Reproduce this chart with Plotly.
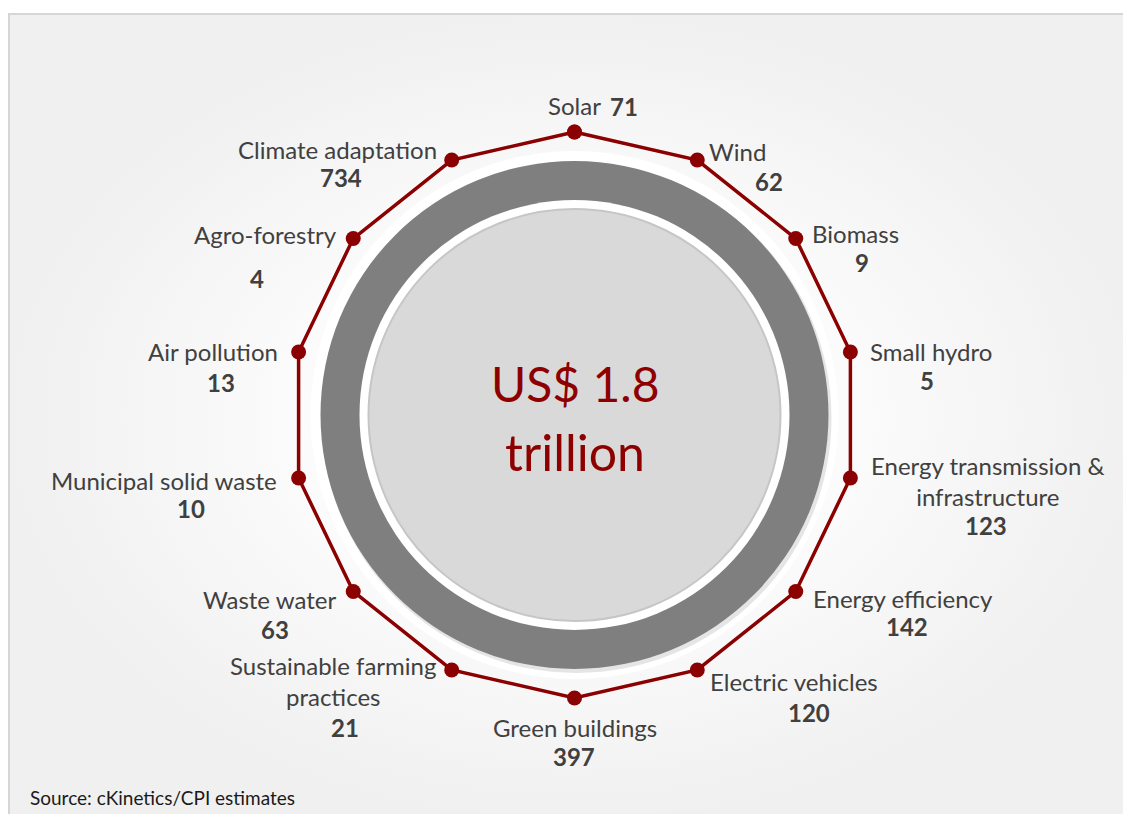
import math
import plotly.graph_objects as go

# ---------------- data ----------------
categories = [
    "Solar", "Wind", "Biomass", "Small hydro",
    "Energy transmission &<br>infrastructure", "Energy efficiency",
    "Electric vehicles", "Green buildings",
    "Sustainable farming<br>practices", "Waste water",
    "Municipal solid waste", "Air pollution", "Agro-forestry",
    "Climate adaptation",
]
values = [71, 62, 9, 5, 123, 142, 120, 397, 21, 63, 10, 13, 4, 734]
total_lines = ["US$ 1.8", "trillion"]
source_text = "Source: cKinetics/CPI estimates"

# ---------------- style / layout ----------------
W, H = 1131, 814
OFF = 8                        # page offset of the figure (browser body margin)
CX, CY = 574.5, 415.0          # centre of the wheel (page px)
R_PX = 283.0                   # pixel radius of the polygon
RING_R = 1.0                   # radial value on which the polygon sits
RANGE_MAX = 1.2
DARK_RED = "#8b0000"
TEXT_GREY = "#404040"
FONT = "Lato"
LABEL_SIZE = 24

# label centres (page px) for names and values
name_xy = [(574.5, 105), (737, 151), (855, 233), (931, 351), (988, 481),
           (903, 598), (794, 681), (575, 727), (333, 681), (269, 599),
           (164, 480), (213, 351), (265, 234), (337, 149)]
value_xy = [(624, 106), (769, 181), (862, 262), (927, 380), (986, 525),
            (907, 626), (809, 712), (574, 756), (345, 727), (275, 629),
            (191, 508), (221, 382), (257, 278), (341, 177)]

fig = go.Figure()

# background panel with soft radial gradient (pixel-space cartesian axis)
fig.add_trace(go.Scatter(
    x=[7, W + OFF, W + OFF, 7, 7], y=[14, 14, H + OFF, H + OFF, 14],
    mode="lines", fill="toself", line=dict(width=0),
    fillgradient=dict(type="radial",
                      colorscale=[[0, "#ffffff"], [0.5, "#fbfbfb"], [1, "#f0f0f0"]]),
    hoverinfo="skip", showlegend=False, xaxis="x", yaxis="y",
))

# polygon through the categories
theta = categories + [categories[0]]
fig.add_trace(go.Scatterpolar(
    r=[RING_R] * len(theta), theta=theta,
    mode="lines+markers",
    line=dict(color=DARK_RED, width=3.5),
    marker=dict(color=DARK_RED, size=15),
    cliponaxis=False, hoverinfo="skip", showlegend=False,
))

span = R_PX * RANGE_MAX
fcx, fcy = CX - OFF, CY - OFF   # centre in figure px
fig.update_layout(
    width=W, height=H,
    margin=dict(l=0, r=0, t=0, b=0),
    paper_bgcolor="white", plot_bgcolor="rgba(0,0,0,0)",
    showlegend=False,
    xaxis=dict(range=[OFF, W + OFF], visible=False, domain=[0, 1], fixedrange=True),
    yaxis=dict(range=[H + OFF, OFF], visible=False, domain=[0, 1], fixedrange=True),
    polar=dict(
        domain=dict(x=[(fcx - span) / W, (fcx + span) / W],
                    y=[(H - fcy - span) / H, (H - fcy + span) / H]),
        bgcolor="rgba(0,0,0,0)",
        radialaxis=dict(range=[0, RANGE_MAX], visible=False, showgrid=False,
                        showline=False, showticklabels=False, ticks=""),
        angularaxis=dict(rotation=90, direction="clockwise", visible=False,
                         showgrid=False, showline=False, showticklabels=False,
                         ticks=""),
    ),
)

def circle(r, dx=0, dy=0, **kw):
    return dict(type="circle", xref="x", yref="y", layer="above",
                x0=CX - r + dx, x1=CX + r + dx, y0=CY - r + dy, y1=CY + r + dy, **kw)

shapes = [
    # panel border
    dict(type="line", xref="x", yref="y", x0=8, x1=W + OFF, y0=14, y1=14,
         line=dict(color="#d6d6d6", width=2), layer="above"),
    dict(type="line", xref="x", yref="y", x0=9, x1=9, y0=14, y1=H + OFF,
         line=dict(color="#d6d6d6", width=2), layer="above"),
    # halo
    circle(264, fillcolor="rgba(255,255,255,0.9)", line=dict(width=0)),
    # ring shadow
    circle(255, dx=2, dy=3, fillcolor="rgba(0,0,0,0.10)", line=dict(width=0)),
    # grey ring
    circle(254, fillcolor="#7f7f7f", line=dict(width=0)),
    # white band
    circle(215, fillcolor="#ffffff", line=dict(width=0)),
    # inner disc
    circle(206, fillcolor="#d9d9d9", line=dict(color="#c6c6c6", width=2)),
]
fig.update_layout(shapes=shapes)

ann = []
for name, val, (nx, ny), (vx, vy) in zip(categories, values, name_xy, value_xy):
    ann.append(dict(x=nx, y=ny, xref="x", yref="y", text=name, showarrow=False,
                    xanchor="center", yanchor="middle", align="center",
                    font=dict(family=FONT, size=LABEL_SIZE, color=TEXT_GREY)))
    ann.append(dict(x=vx, y=vy, xref="x", yref="y", text=f"<b>{val}</b>",
                    showarrow=False, xanchor="center", yanchor="middle",
                    font=dict(family=FONT, size=LABEL_SIZE, color=TEXT_GREY)))

for txt, y, sz in zip(total_lines, [383, 452], [48, 50]):
    ann.append(dict(x=CX, y=y, xref="x", yref="y", text=txt, showarrow=False,
                    xanchor="center", yanchor="middle",
                    font=dict(family=FONT, size=sz, color="#8e0000")))

ann.append(dict(x=28, y=797, xref="x", yref="y", text=source_text, showarrow=False,
                xanchor="left", yanchor="middle",
                font=dict(family=FONT, size=19, color="#1a1a1a")))
fig.update_layout(annotations=ann)

fig.write_html("out.html")
